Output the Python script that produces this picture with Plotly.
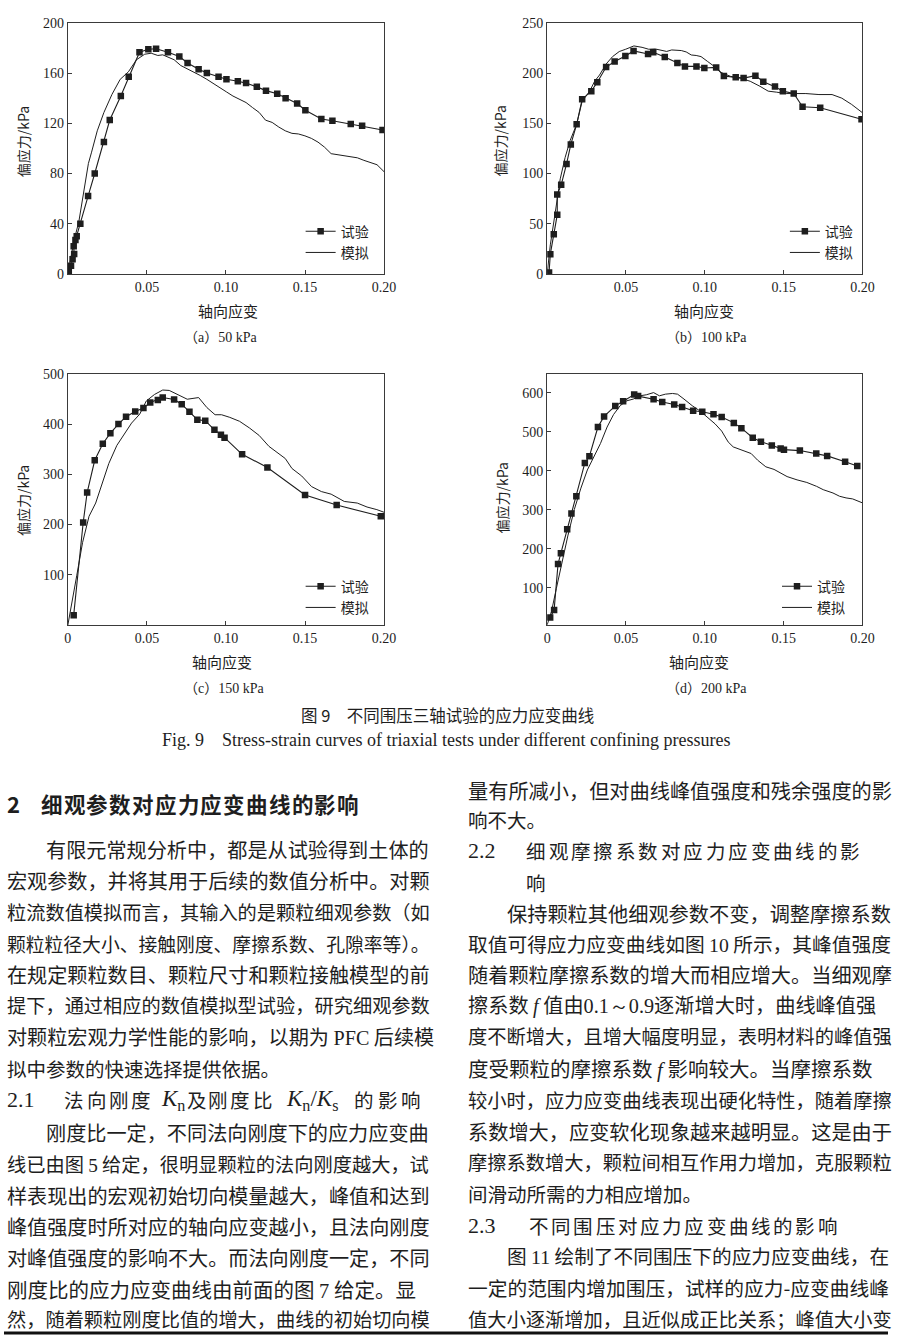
import re
import plotly.graph_objects as go

W, H = 900, 1343

# ---------------- data ----------------
exp_a_x = [0.0006, 0.002, 0.003, 0.004, 0.0037, 0.0048, 0.0056, 0.0079, 0.0128, 0.017, 0.0228, 0.0265, 0.0335, 0.0385, 0.0453, 0.0509, 0.0558, 0.0633, 0.0705, 0.0757, 0.0827, 0.0879, 0.0953, 0.1003, 0.1075, 0.1127, 0.1195, 0.1253, 0.1324, 0.1377, 0.145, 0.1502, 0.1603, 0.1673, 0.1789, 0.1861, 0.199]
exp_a_y = [1.8, 6.6, 11.8, 16, 22, 27, 30, 40, 62, 80, 105, 122.6, 141.7, 157, 176.6, 179, 179.3, 176.6, 173.2, 168, 163, 160, 157, 155, 153.5, 152, 149, 146, 143.6, 140, 135.7, 130.4, 123.4, 122, 119.4, 118, 114.7]
sim_a_x = [0, 0.002, 0.004, 0.007, 0.0095, 0.0114, 0.013, 0.015, 0.0186, 0.0228, 0.0279, 0.0331, 0.0383, 0.0434, 0.0486, 0.0527, 0.0569, 0.06, 0.0631, 0.0672, 0.0714, 0.0755, 0.0796, 0.0838, 0.0879, 0.092, 0.0962, 0.1003, 0.1044, 0.1086, 0.1127, 0.1168, 0.121, 0.125, 0.1292, 0.1334, 0.1375, 0.1417, 0.1458, 0.1499, 0.154, 0.1582, 0.1623, 0.1665, 0.1706, 0.1748, 0.179, 0.1831, 0.1872, 0.1913, 0.1955, 0.2]
sim_a_y = [0, 14, 27, 42, 62, 79, 88, 97, 114, 128.6, 143, 155, 161, 170.6, 175, 175.8, 174, 174.5, 172.7, 170.6, 166, 163.5, 161, 158, 155, 151.5, 148, 145, 141.7, 139, 136.5, 132.5, 128.6, 122.5, 120.7, 117, 114, 112, 111.5, 110, 108, 105, 101, 95.8, 95, 94.5, 93.5, 92.5, 90.5, 89, 87, 81.4]

exp_b_x = [0.0012, 0.002, 0.0042, 0.0064, 0.0064, 0.0089, 0.0123, 0.015, 0.0187, 0.0222, 0.028, 0.0318, 0.0374, 0.0428, 0.0496, 0.0548, 0.064, 0.0673, 0.0746, 0.0826, 0.0874, 0.0947, 0.0997, 0.1072, 0.1121, 0.1196, 0.1246, 0.1321, 0.1371, 0.1445, 0.1495, 0.1564, 0.162, 0.1732, 0.1994]
exp_b_y = [1.6, 19.7, 39.5, 59, 79, 88.8, 109.5, 129, 149, 174, 182, 190.8, 206, 211.5, 217, 222, 219, 220.7, 216, 210, 206.6, 206.6, 205, 205.6, 197, 195.7, 195, 197.4, 191.4, 186.5, 182, 179.6, 166.4, 165.5, 154]
sim_b_x = [0, 0.002, 0.0052, 0.0083, 0.0114, 0.0145, 0.0187, 0.0222, 0.027, 0.0301, 0.0332, 0.0374, 0.0415, 0.0457, 0.0498, 0.055, 0.0602, 0.0644, 0.0685, 0.0727, 0.0758, 0.079, 0.0851, 0.0882, 0.0914, 0.0945, 0.0976, 0.1018, 0.106, 0.1101, 0.1163, 0.1225, 0.1288, 0.135, 0.1402, 0.1454, 0.1516, 0.1578, 0.1641, 0.1724, 0.1807, 0.1869, 0.1931, 0.2]
sim_b_y = [0, 29, 62, 94.7, 116, 132.6, 149, 172, 182, 191.8, 198, 209, 216.4, 221.4, 223.7, 227, 225.6, 223.7, 224, 223, 221.5, 223, 222.4, 221, 218, 217.5, 216.4, 211.5, 206.6, 200.7, 196.7, 195, 191.8, 186.8, 182, 181, 179.6, 179.6, 179.6, 178.6, 178.6, 175, 168.8, 160.5]

exp_c_x = [0.0037, 0.0097, 0.0122, 0.017, 0.0221, 0.0269, 0.032, 0.0368, 0.0426, 0.0478, 0.0521, 0.0569, 0.06, 0.0672, 0.072, 0.0769, 0.0819, 0.0869, 0.0927, 0.0968, 0.0991, 0.1102, 0.1262, 0.15, 0.17, 0.1979]
exp_c_y = [19.7, 204, 263.8, 328, 361, 382, 400, 414.7, 425, 431.8, 443, 448, 452.8, 448.8, 439.6, 424.5, 408.8, 406.8, 388.5, 379, 373, 339.9, 313.6, 259, 238.8, 216.5]
sim_c_x = [0, 0.0031, 0.0056, 0.0093, 0.0134, 0.0176, 0.0217, 0.0259, 0.031, 0.0362, 0.0403, 0.0455, 0.0496, 0.0548, 0.06, 0.0641, 0.0683, 0.0755, 0.0827, 0.0879, 0.0931, 0.0972, 0.1024, 0.1086, 0.1148, 0.121, 0.1272, 0.1334, 0.1375, 0.1417, 0.1479, 0.1541, 0.1603, 0.1665, 0.1706, 0.1748, 0.183, 0.1892, 0.1954, 0.2]
sim_c_y = [0, 59, 98, 164, 216.5, 242.8, 282, 321.5, 357.6, 383.9, 402, 420, 446, 459, 467.8, 467, 460.6, 449.5, 452.8, 433, 418.6, 418.6, 413.4, 405.5, 392.4, 377.3, 355.6, 341.2, 331.4, 311.7, 296.6, 275.6, 265.7, 260.5, 252.6, 246, 242.8, 234.9, 229.7, 224.4]

exp_d_x = [0.0019, 0.0044, 0.0069, 0.0087, 0.0127, 0.0154, 0.0185, 0.0239, 0.0268, 0.0322, 0.0361, 0.0432, 0.0482, 0.0552, 0.0577, 0.0675, 0.073, 0.0806, 0.0856, 0.0926, 0.0984, 0.1055, 0.1107, 0.1184, 0.1232, 0.1304, 0.1356, 0.1425, 0.1481, 0.1502, 0.1603, 0.1707, 0.1776, 0.189, 0.1967]
exp_d_y = [24, 43.5, 161.5, 188.5, 250, 290.5, 334.4, 420, 437, 512, 539, 566, 578, 595, 591, 583, 575.8, 569.7, 563, 553.7, 551, 544.5, 537.7, 522.5, 509, 484.5, 474.4, 464.3, 456.7, 454, 451.6, 444, 438, 423, 412]
sim_d_x = [0, 0.0027, 0.0058, 0.0089, 0.0131, 0.0172, 0.0214, 0.0255, 0.0297, 0.0338, 0.038, 0.0421, 0.0463, 0.0505, 0.0546, 0.0588, 0.0629, 0.0675, 0.0712, 0.075, 0.0795, 0.0827, 0.0868, 0.092, 0.0972, 0.1024, 0.1065, 0.1107, 0.1148, 0.118, 0.1232, 0.1294, 0.1335, 0.1387, 0.1439, 0.1481, 0.1522, 0.1585, 0.1647, 0.1709, 0.1751, 0.1813, 0.1855, 0.1896, 0.1938, 0.2]
sim_d_y = [5.6, 39, 98, 157, 233, 300.6, 355.5, 402, 436, 469.6, 511.8, 543.8, 566.5, 579, 583.4, 591.8, 594.4, 600, 591.8, 596, 597.8, 596, 583.4, 566.5, 552.2, 532.8, 520, 501.5, 473.7, 461, 454, 444, 427, 410, 403.4, 395, 385, 376.6, 370, 360, 351.5, 343, 334.6, 330.4, 327.8, 317.7]

panels = [
    dict(ex=exp_a_x, ey=exp_a_y, sx=sim_a_x, sy=sim_a_y),
    dict(ex=exp_b_x, ey=exp_b_y, sx=sim_b_x, sy=sim_b_y),
    dict(ex=exp_c_x, ey=exp_c_y, sx=sim_c_x, sy=sim_c_y),
    dict(ex=exp_d_x, ey=exp_d_y, sx=sim_d_x, sy=sim_d_y),
]
series_names = ["试验", "模拟"]
panel_letters = ["a", "b", "c", "d"]
panel_pressures = ["50 kPa", "100 kPa", "150 kPa", "200 kPa"]
y_title = "偏应力/kPa"
x_title = "轴向应变"
x_ticks_ab = [0.05, 0.10, 0.15, 0.20]
x_ticks_cd = [0, 0.05, 0.10, 0.15, 0.20]
y_ticks = [[0, 40, 80, 120, 160, 200], [0, 50, 100, 150, 200, 250],
           [100, 200, 300, 400, 500], [100, 200, 300, 400, 500, 600]]
y_ranges = [[0, 200], [0, 250], [0, 500], [5, 648]]

fig_title_cn = "图 9　不同围压三轴试验的应力应变曲线"
fig_title_en = "Fig. 9　Stress-strain curves of triaxial tests under different confining pressures"

SER = "Liberation Serif"
CJK = "Noto Sans CJK SC"
def ser(t):
    return f'<span style="font-family:{SER}">{t}</span>'

# body lines: (kind, text, y)   kind: body / ind (indented) / last (not justified)
left_lines = [
    ("ind", "有限元常规分析中，都是从试验得到土体的", 852),
    ("body", "宏观参数，并将其用于后续的数值分析中。对颗", 883),
    ("body", "粒流数值模拟而言，其输入的是颗粒细观参数（如", 915),
    ("body", "颗粒粒径大小、接触刚度、摩擦系数、孔隙率等）。", 947),
    ("body", "在规定颗粒数目、颗粒尺寸和颗粒接触模型的前", 978),
    ("body", "提下，通过相应的数值模拟型试验，研究细观参数", 1009),
    ("body", "对颗粒宏观力学性能的影响，以期为 " + ser("PFC") + " 后续模", 1041),
    ("last", "拟中参数的快速选择提供依据。", 1073),
    ("ind", "刚度比一定，不同法向刚度下的应力应变曲", 1138),
    ("body", "线已由图 " + ser("5") + " 给定，很明显颗粒的法向刚度越大，试", 1170),
    ("body", "样表现出的宏观初始切向模量越大，峰值和达到", 1202),
    ("body", "峰值强度时所对应的轴向应变越小，且法向刚度", 1233),
    ("body", "对峰值强度的影响不大。而法向刚度一定，不同", 1265),
    ("body", "刚度比的应力应变曲线由前面的图 " + ser("7") + " 给定。显", 1296),
    ("body", "然，随着颗粒刚度比值的增大，曲线的初始切向模", 1327),
]
right_lines = [
    ("body", "量有所减小，但对曲线峰值强度和残余强度的影", 792),
    ("last", "响不大。", 822),
    ("ind", "保持颗粒其他细观参数不变，调整摩擦系数", 917),
    ("body", "取值可得应力应变曲线如图 " + ser("10") + " 所示，其峰值强度", 947),
    ("body", "随着颗粒摩擦系数的增大而相应增大。当细观摩", 978),
    ("body", "擦系数 " + ser("<i>f</i>") + " 值由" + ser("0.1～0.9") + "逐渐增大时，曲线峰值强", 1009),
    ("body", "度不断增大，且增大幅度明显，表明材料的峰值强", 1041),
    ("body", "度受颗粒的摩擦系数 " + ser("<i>f</i>") + " 影响较大。当摩擦系数", 1073),
    ("body", "较小时，应力应变曲线表现出硬化特性，随着摩擦", 1105),
    ("body", "系数增大，应变软化现象越来越明显。这是由于", 1137),
    ("body", "摩擦系数增大，颗粒间相互作用力增加，克服颗粒", 1168),
    ("last", "间滑动所需的力相应增加。", 1200),
    ("ind", "图 " + ser("11") + " 绘制了不同围压下的应力应变曲线，在", 1263),
    ("body", "一定的范围内增加围压，试样的应力-应变曲线峰", 1295),
    ("body", "值大小逐渐增加，且近似成正比关系；峰值大小变", 1327),
]
# headings (letter-spaced in the reference)
head2_num, head2_txt = "2", "细观参数对应力应变曲线的影响"
sec21_num = "2.1"
sec21_parts = ["法向刚度", "<i>K</i><sub>n</sub>", "及", "刚度比", "<i>K</i><sub>n</sub>/<i>K</i><sub>s</sub>", "的影响"]
sec22_num, sec22_txt, sec22_tail = "2.2", "细观摩擦系数对应力应变曲线的影", "响"
sec23_num, sec23_txt = "2.3", "不同围压对应力应变曲线的影响"

# ---------------- layout geometry (pixels) ----------------
def px(x):
    return x / W
def py(y):
    return 1 - y / H

dom_x = [[65, 387], [553, 874], [65, 387], [553, 874]]
dom_y = [[16, 270], [16, 270], [371, 625], [371, 625]]
legend_pos = [(302, 211), (795, 211), (302, 570), (787, 570)]
ytitle_pos = [(20, 136), (505, 136), (20, 499), (507, 496)]
xtitle_pos = [(228, 307), (713, 307), (222, 662), (708, 662)]
cap_pos = [(221, 333), (715, 333), (224, 688), (715, 688)]

fig = go.Figure()
INK = "#1e1e1e"
annotations = []

def note(text, x, y, size, family, xanchor="center", angle=0, weight="normal"):
    annotations.append(dict(text=text, x=px(x), y=py(y), xref="paper", yref="paper",
                            showarrow=False, xanchor=xanchor, yanchor="middle",
                            textangle=angle, borderpad=0, borderwidth=0,
                            font=dict(family=family, size=size, color=INK, weight=weight)))

for i, p in enumerate(panels):
    n = i + 1
    xa = "x" if n == 1 else f"x{n}"
    ya = "y" if n == 1 else f"y{n}"
    lg = "legend" if n == 1 else f"legend{n}"
    fig.add_trace(go.Scatter(x=p["ex"], y=p["ey"], mode="lines+markers", name=series_names[0],
                             xaxis=xa, yaxis=ya, legend=lg,
                             line=dict(color=INK, width=1.1),
                             marker=dict(symbol="square", size=6.5, color=INK)))
    fig.add_trace(go.Scatter(x=p["sx"], y=p["sy"], mode="lines", name=series_names[1],
                             xaxis=xa, yaxis=ya, legend=lg,
                             line=dict(color=INK, width=1.0)))
    xt = x_ticks_ab if i < 2 else x_ticks_cd
    axis_common = dict(showgrid=False, zeroline=False, showline=True, mirror=True,
                       linecolor="#3a3a3a", linewidth=1, ticks="inside", ticklen=4,
                       tickcolor="#3a3a3a",
                       tickfont=dict(family=SER, size=14, color=INK))
    fig.layout[("xaxis" if n == 1 else f"xaxis{n}")] = dict(
        domain=[px(dom_x[i][0]), px(dom_x[i][1])], anchor=ya, range=[0, 0.2],
        tickvals=xt, ticktext=["0" if v == 0 else f"{v:.2f}" for v in xt], **axis_common)
    fig.layout[("yaxis" if n == 1 else f"yaxis{n}")] = dict(
        domain=[py(dom_y[i][1]), py(dom_y[i][0])], anchor=xa, range=y_ranges[i],
        tickvals=y_ticks[i], ticktext=[str(v) for v in y_ticks[i]], **axis_common)
    fig.layout[lg] = dict(x=px(legend_pos[i][0]), y=py(legend_pos[i][1]), xanchor="left",
                          yanchor="top", xref="paper", yref="paper",
                          bgcolor="rgba(0,0,0,0)", borderwidth=0, tracegroupgap=0,
                          font=dict(family=CJK, size=14, color=INK), itemwidth=30)
    note(y_title, ytitle_pos[i][0], ytitle_pos[i][1], 14, CJK, angle=-90)
    note(x_title, xtitle_pos[i][0], xtitle_pos[i][1], 15, CJK)
    note("（" + ser(panel_letters[i]) + "）" + ser(panel_pressures[i]),
         cap_pos[i][0], cap_pos[i][1], 14, CJK)

note(fig_title_cn, 452, 716, 16.5, CJK)
note(fig_title_en, 450, 741, 18, SER)

# ---------------- body text ----------------
PUNCT = "，。、；：（）！？"
def units(txt):
    plain = re.sub(r"<[^>]+>", "", txt)
    u = 0.0
    for k, ch in enumerate(plain):
        nxt = plain[k + 1] if k + 1 < len(plain) else ""
        if ch == " ":
            u += 0.25
        elif ord(ch) < 128:
            u += 0.5
        elif ch in PUNCT and nxt in PUNCT and nxt != "":
            u += 0.5
        else:
            u += 1.0
    return u

def add_lines(lines, x0, width):
    for kind, txt, y in lines:
        x = x0
        avail = width
        if kind == "ind":
            x = x0 + 40
            avail = width - 40
        if kind == "last":
            size = 19.5
        else:
            size = max(16.5, min(20.5, avail / (units(txt) * 1.0)))
        note(txt, x, y, size, CJK, xanchor="left")

add_lines(left_lines, 3, 423)
add_lines(right_lines, 472, 424)

def spaced(txt, x_start, pitch, y, size, weight="normal"):
    for k, ch in enumerate(txt):
        note(ch, x_start + k * pitch + size / 2, y, size, CJK, xanchor="center", weight=weight)

# main heading
note(head2_num, 3, 805, 22, CJK, xanchor="left", weight="bold")
spaced(head2_txt, 38, 23.2, 805, 21.5, weight="bold")
# 2.1
note(sec21_num, 3, 1105, 22, SER, xanchor="left")
spaced(sec21_parts[0], 62, 22.7, 1105, 19.5)
note(ser(sec21_parts[1]), 160, 1105, 23, CJK, xanchor="left")
note(sec21_parts[2], 186, 1105, 19.5, CJK, xanchor="left")
spaced(sec21_parts[3], 208, 23, 1105, 19.5)
note(ser(sec21_parts[4]), 287, 1105, 23, CJK, xanchor="left")
spaced(sec21_parts[5], 357, 24, 1105, 19.5)
# 2.2
note(sec22_num, 472, 853, 22, SER, xanchor="left")
spaced(sec22_txt, 532, 22.85, 853, 19.5)
note(sec22_tail, 531, 885, 19.5, CJK, xanchor="left")
# 2.3
note(sec23_num, 472, 1232, 22, SER, xanchor="left")
spaced(sec23_txt, 535, 22.6, 1232, 19.5)

fig.update_layout(
    width=W, height=H, margin=dict(l=0, r=0, t=0, b=0),
    paper_bgcolor="white", plot_bgcolor="white",
    annotations=annotations,
    shapes=[dict(type="line", xref="paper", yref="paper", x0=0, x1=1,
                 y0=py(1341), y1=py(1341), line=dict(color="#111", width=3))],
)

fig.write_html("out.html", config={"displayModeBar": False},
               post_script="document.body.style.margin='0px';")
